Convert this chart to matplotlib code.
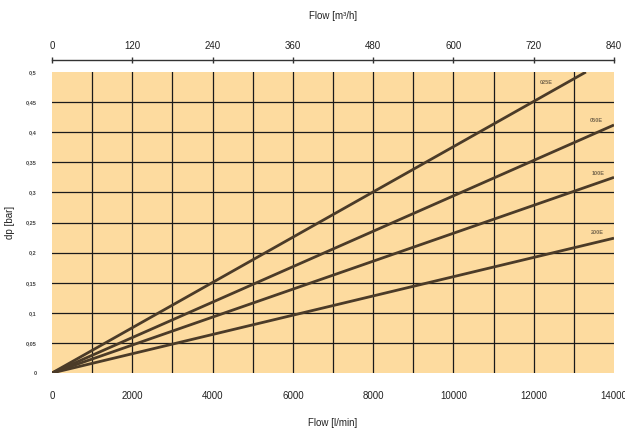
import matplotlib
matplotlib.use("Agg")
import matplotlib.pyplot as plt
import numpy as np

plt.rcParams['font.family'] = ['Liberation Sans', 'DejaVu Sans']

# Data
series_names = ["025E", "050E", "100E", "200E"]
flow_start = [0, 0, 0, 0]
flow_end = [13300, 14000, 14000, 14000]
dp_end = [0.5, 0.412, 0.325, 0.224]
label_x = [12300, 13550, 13600, 13580]
label_y = [0.482, 0.420, 0.332, 0.233]

x_ticks = [0, 2000, 4000, 6000, 8000, 10000, 12000, 14000]
top_ticks = [0, 120, 240, 360, 480, 600, 720, 840]
y_ticks = [0, 0.05, 0.1, 0.15, 0.2, 0.25, 0.3, 0.35, 0.4, 0.45, 0.5]
y_tick_labels = ["0", "0,05", "0,1", "0,15", "0,2", "0,25", "0,3", "0,35", "0,4", "0,45", "0,5"]

W, H = 625, 432
fig = plt.figure(figsize=(W / 100, H / 100), dpi=100)

x0, x1 = 52, 614
yb, yt = 373, 72
ax = fig.add_axes([x0 / W, (H - yb) / H, (x1 - x0) / W, (yb - yt) / H])
ax.set_facecolor('#FDDB9F')
ax.set_xlim(0, 14000)
ax.set_ylim(0, 0.5)
for s in ax.spines.values():
    s.set_visible(False)

# grid
for gx in range(1000, 14000, 1000):
    ax.axvline(gx, color='#1a1a1a', lw=0.9, zorder=1)
for gy in y_ticks[1:-1]:
    ax.axhline(gy, color='#1a1a1a', lw=0.9, zorder=1)

line_color = '#4b3b28'
for name, xs, xe, ye, lx, ly in zip(series_names, flow_start, flow_end, dp_end, label_x, label_y):
    ax.plot([xs, xe], [0, ye], color=line_color, lw=2.0, zorder=3, solid_capstyle='butt')
    ax.text(lx, ly, name, fontsize=4, color='#7a6a50', ha='center', va='center', zorder=4, fontweight='bold')

ax.set_xticks(x_ticks)
ax.set_xticklabels([str(v) for v in x_ticks], fontsize=7, color='#222222')
ax.set_yticks(y_ticks)
ax.set_yticklabels(y_tick_labels, fontsize=4, color='#444444', fontweight='bold')
ax.tick_params(axis='x', length=0, pad=13)
ax.tick_params(axis='y', length=0, pad=11)
ax.set_xlabel('Flow [l/min]', fontsize=7, color='#222222', labelpad=12)
ax.set_ylabel('dp [bar]', fontsize=7, color='#222222', labelpad=8)

# top axis
ytop = 60
ax2 = fig.add_axes([x0 / W, (H - ytop) / H, (x1 - x0) / W, 0.0001])
ax2.set_xlim(0, 840)
ax2.patch.set_visible(False)
for k in ['left', 'right', 'top']:
    ax2.spines[k].set_visible(False)
ax2.spines['bottom'].set_color('#333333')
ax2.spines['bottom'].set_linewidth(1.0)
ax2.set_yticks([])
ax2.set_xticks(top_ticks)
ax2.xaxis.set_ticks_position('bottom')
ax2.tick_params(axis='x', direction='inout', length=5, width=1, color='#333333',
                labelbottom=False, labeltop=True, pad=4, labelsize=7, labelcolor='#222222')
ax2.xaxis.set_label_position('top')
ax2.set_xlabel('Flow [m³/h]', fontsize=7, color='#222222', labelpad=16)

fig.savefig('out.png', dpi=100)
